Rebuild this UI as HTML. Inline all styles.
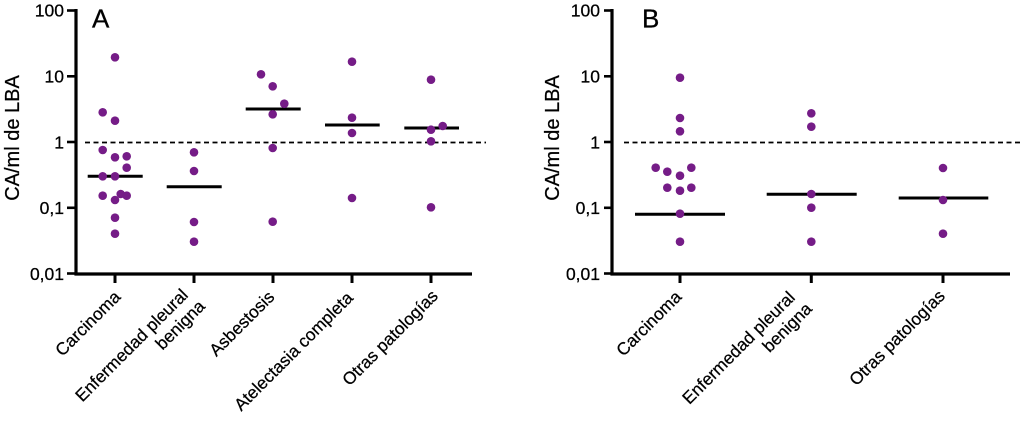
<!DOCTYPE html>
<html><head><meta charset="utf-8"><style>
html,body{margin:0;padding:0;background:#fff;}
svg{display:block;font-family:"Liberation Sans",Arial,sans-serif;}
</style></head><body>
<svg width="1024" height="424" viewBox="0 0 1024 424" xmlns="http://www.w3.org/2000/svg">
<rect width="1024" height="424" fill="#fff"/>

<!-- ===== Panel A ===== -->
<g stroke="#000" fill="none">
  <line x1="76" y1="9" x2="76" y2="275.5" stroke-width="3.2"/>
  <line x1="74.5" y1="274" x2="472" y2="274" stroke-width="3.2"/>
  <g stroke-width="2.6">
    <line x1="67" y1="10.5" x2="76" y2="10.5"/>
    <line x1="67" y1="76.3" x2="76" y2="76.3"/>
    <line x1="67" y1="142" x2="76" y2="142"/>
    <line x1="67" y1="207.8" x2="76" y2="207.8"/>
    <line x1="67" y1="273.5" x2="76" y2="273.5"/>
  </g>
  <g stroke-width="3">
    <line x1="115" y1="274" x2="115" y2="283"/>
    <line x1="194" y1="274" x2="194" y2="283"/>
    <line x1="273" y1="274" x2="273" y2="283"/>
    <line x1="352" y1="274" x2="352" y2="283"/>
    <line x1="431" y1="274" x2="431" y2="283"/>
  </g>
  <line x1="85" y1="142.5" x2="486" y2="142.5" stroke-width="1.7" stroke-dasharray="5,3.5"/>
  <g stroke-width="3">
    <line x1="87.7" y1="176.3" x2="142.7" y2="176.3"/>
    <line x1="166.7" y1="186.7" x2="221.7" y2="186.7"/>
    <line x1="245.7" y1="109" x2="300.7" y2="109"/>
    <line x1="325" y1="125" x2="379.7" y2="125"/>
    <line x1="404.3" y1="128" x2="459" y2="128"/>
  </g>
</g>
<g font-size="17.5" text-anchor="end" fill="#000" stroke="#000" stroke-width="0.25">
  <text x="64" y="16.5">100</text>
  <text x="64" y="82.5">10</text>
  <text x="64" y="148.5">1</text>
  <text x="64" y="214">0,1</text>
  <text x="64" y="280">0,01</text>
</g>
<text transform="translate(19,138) rotate(-90)" font-size="20" text-anchor="middle" stroke="#000" stroke-width="0.25">CA/ml de LBA</text>
<text x="92" y="27.5" font-size="26" stroke="#000" stroke-width="0.3">A</text>

<g fill="#751c87">
  <circle cx="115" cy="57.3" r="4.3"/><circle cx="102.7" cy="112.3" r="4.3"/><circle cx="115" cy="120.7" r="4.3"/>
  <circle cx="102.7" cy="150" r="4.3"/><circle cx="115" cy="157.3" r="4.3"/><circle cx="126.7" cy="156.3" r="4.3"/>
  <circle cx="126.7" cy="167.7" r="4.3"/><circle cx="102.7" cy="176.3" r="4.3"/><circle cx="115" cy="176.3" r="4.3"/>
  <circle cx="102.7" cy="195.7" r="4.3"/><circle cx="120.7" cy="194" r="4.3"/><circle cx="126.7" cy="195.7" r="4.3"/>
  <circle cx="115" cy="200" r="4.3"/><circle cx="115" cy="217.7" r="4.3"/><circle cx="115" cy="233.7" r="4.3"/>

  <circle cx="194" cy="152.3" r="4.3"/><circle cx="194" cy="171" r="4.3"/><circle cx="194" cy="222" r="4.3"/><circle cx="194" cy="241.7" r="4.3"/>

  <circle cx="261" cy="74.3" r="4.3"/><circle cx="272.7" cy="86.3" r="4.3"/><circle cx="284.3" cy="103.7" r="4.3"/>
  <circle cx="272.7" cy="114.3" r="4.3"/><circle cx="272.7" cy="148" r="4.3"/><circle cx="272.7" cy="221.7" r="4.3"/>

  <circle cx="352" cy="61.7" r="4.3"/><circle cx="352" cy="117.7" r="4.3"/><circle cx="352" cy="133" r="4.3"/><circle cx="352" cy="198" r="4.3"/>

  <circle cx="431" cy="79.7" r="4.3"/><circle cx="442.7" cy="126" r="4.3"/><circle cx="431" cy="129.7" r="4.3"/>
  <circle cx="431" cy="141.3" r="4.3"/><circle cx="431" cy="207.3" r="4.3"/>
</g>

<g font-size="17.3" text-anchor="end" fill="#000" stroke="#000" stroke-width="0.25">
  <text transform="translate(121.5,298) rotate(-45)">Carcinoma</text>
  <g transform="translate(189,296) rotate(-45)">
    <text x="0" y="0">Enfermedad pleural</text>
    <text x="4" y="20">benigna</text>
  </g>
  <text transform="translate(275.5,298) rotate(-45)">Asbestosis</text>
  <text transform="translate(354,299) rotate(-45)">Atelectasia completa</text>
  <text transform="translate(439,297) rotate(-45)">Otras patologías</text>
</g>

<!-- ===== Panel B ===== -->
<g stroke="#000" fill="none">
  <line x1="612" y1="9" x2="612" y2="275.5" stroke-width="3.2"/>
  <line x1="610.5" y1="274" x2="1010" y2="274" stroke-width="3.2"/>
  <g stroke-width="2.6">
    <line x1="604" y1="10.5" x2="612" y2="10.5"/>
    <line x1="604" y1="76.3" x2="612" y2="76.3"/>
    <line x1="604" y1="142" x2="612" y2="142"/>
    <line x1="604" y1="207.8" x2="612" y2="207.8"/>
    <line x1="604" y1="273.5" x2="612" y2="273.5"/>
  </g>
  <g stroke-width="3">
    <line x1="680" y1="274" x2="680" y2="283"/>
    <line x1="811.3" y1="274" x2="811.3" y2="283"/>
    <line x1="943" y1="274" x2="943" y2="283"/>
  </g>
  <line x1="624" y1="142.5" x2="1021" y2="142.5" stroke-width="1.7" stroke-dasharray="5,3.5"/>
  <g stroke-width="3">
    <line x1="635" y1="214.3" x2="725" y2="214.3"/>
    <line x1="766.7" y1="194.3" x2="856.7" y2="194.3"/>
    <line x1="898.7" y1="198" x2="988.3" y2="198"/>
  </g>
</g>
<g font-size="17.5" text-anchor="end" fill="#000" stroke="#000" stroke-width="0.25">
  <text x="600" y="16.5">100</text>
  <text x="600" y="82.5">10</text>
  <text x="600" y="148.5">1</text>
  <text x="600" y="214">0,1</text>
  <text x="600" y="280">0,01</text>
</g>
<text transform="translate(559,138) rotate(-90)" font-size="20" text-anchor="middle" stroke="#000" stroke-width="0.25">CA/ml de LBA</text>
<text x="642" y="27.5" font-size="26" stroke="#000" stroke-width="0.3">B</text>

<g fill="#751c87">
  <circle cx="680" cy="77.7" r="4.3"/><circle cx="680" cy="118" r="4.3"/><circle cx="680" cy="131.3" r="4.3"/>
  <circle cx="655.7" cy="167.7" r="4.3"/><circle cx="667.3" cy="171.7" r="4.3"/><circle cx="680" cy="175.7" r="4.3"/>
  <circle cx="691.3" cy="167.7" r="4.3"/><circle cx="667.3" cy="187.7" r="4.3"/><circle cx="680" cy="190.7" r="4.3"/>
  <circle cx="691.3" cy="187.7" r="4.3"/><circle cx="680" cy="213.7" r="4.3"/><circle cx="680" cy="241.7" r="4.3"/>

  <circle cx="811.3" cy="113.3" r="4.3"/><circle cx="811.3" cy="126.7" r="4.3"/><circle cx="811.3" cy="194" r="4.3"/>
  <circle cx="811.3" cy="207.7" r="4.3"/><circle cx="811.3" cy="241.7" r="4.3"/>

  <circle cx="943" cy="168" r="4.3"/><circle cx="943" cy="200" r="4.3"/><circle cx="943" cy="233.7" r="4.3"/>
</g>

<g font-size="17.3" text-anchor="end" fill="#000" stroke="#000" stroke-width="0.25">
  <text transform="translate(682.5,298) rotate(-45)">Carcinoma</text>
  <g transform="translate(796,298.5) rotate(-45)">
    <text x="0" y="0">Enfermedad pleural</text>
    <text x="4" y="20">benigna</text>
  </g>
  <text transform="translate(946,297) rotate(-45)">Otras patologías</text>
</g>
</svg>
</body></html>
